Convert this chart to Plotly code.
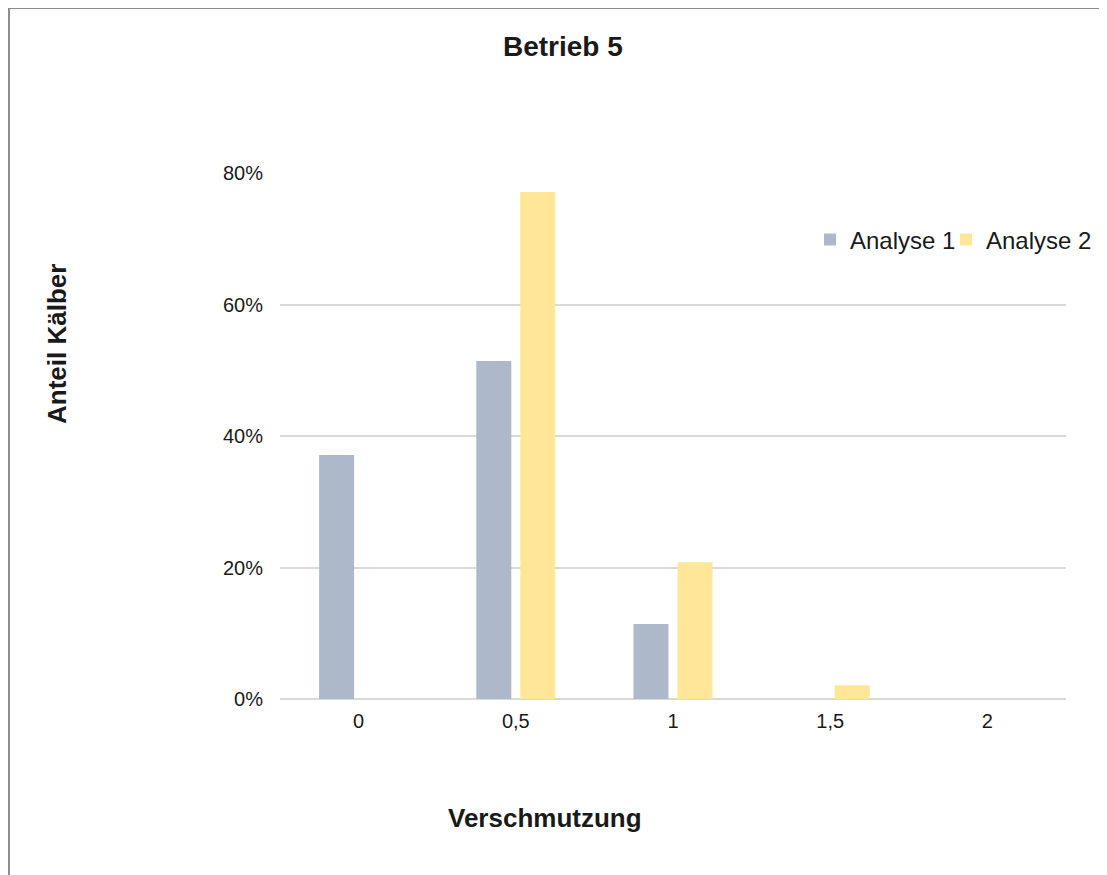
import plotly.graph_objects as go

categories = ["0", "0,5", "1", "1,5", "2"]
analyse1 = [0.371, 0.514, 0.114, 0.0, 0.0]
analyse2 = [0.0, 0.771, 0.208, 0.021, 0.0]
y_ticks = [0, 0.2, 0.4, 0.6, 0.8]

OFF = 8  # page body margin
W, H = 1107 - OFF, 875 - OFF
L, T = 280 - OFF, 173 - OFF
R = W - (1066 - OFF)
B = H - (699 - OFF)
pw, ph = W - L - R, H - T - B

def px_x(p):
    return (p - OFF - L) / pw

def px_y(p):
    return (H - B - (p - OFF)) / ph

FONT = "Liberation Sans, Arial, sans-serif"
TXT = "#1a1a1a"

fig = go.Figure()
fig.add_trace(go.Bar(name="Analyse 1", x=categories, y=analyse1, legend="legend",
                     marker=dict(color="#adb9ca", line=dict(width=0))))
fig.add_trace(go.Bar(name="Analyse 2", x=categories, y=analyse2, legend="legend2",
                     marker=dict(color="#ffe699", line=dict(width=0))))

leg_common = dict(orientation="h", xanchor="left", yanchor="middle",
                  font=dict(size=24, color=TXT, family=FONT), bgcolor="rgba(0,0,0,0)",
                  itemwidth=30)

fig.update_layout(
    width=W, height=H,
    margin=dict(l=L, r=R, t=T, b=B, autoexpand=False),
    paper_bgcolor="white", plot_bgcolor="white",
    barmode="group", bargap=0.44, bargroupgap=0.205,
    font=dict(family=FONT, color=TXT, size=20),
    showlegend=True,
    legend=dict(x=px_x(810), y=px_y(240), **leg_common),
    legend2=dict(x=px_x(946), y=px_y(240), **leg_common),
    xaxis=dict(type="category", showgrid=False, showline=False, zeroline=False,
               ticks="", tickfont=dict(size=20, color=TXT), ticklabelstandoff=8),
    yaxis=dict(range=[0, 0.8], tickvals=y_ticks, tickformat=".0%",
               showgrid=True, gridcolor="#d9d9d9", gridwidth=1.5,
               zeroline=True, zerolinecolor="#d9d9d9", zerolinewidth=1.5,
               showline=False, ticks="", tickfont=dict(size=20, color=TXT),
               ticklabelstandoff=16),
    shapes=[dict(type="rect", xref="paper", yref="paper",
                 x0=px_x(9), x1=px_x(1130), y0=px_y(900), y1=px_y(8),
                 line=dict(color="#8c8c8c", width=2), fillcolor="rgba(0,0,0,0)", layer="below")],
    annotations=[
        dict(text="<b>Betrieb 5</b>", xref="paper", yref="paper", x=px_x(563), y=px_y(46),
             xanchor="center", yanchor="middle", showarrow=False, font=dict(size=28, color=TXT)),
        dict(text="<b>Verschmutzung</b>", xref="paper", yref="paper", x=px_x(545), y=px_y(818),
             xanchor="center", yanchor="middle", showarrow=False, font=dict(size=26, color=TXT)),
        dict(text="<b>Anteil Kälber</b>", xref="paper", yref="paper", x=px_x(57), y=px_y(344),
             xanchor="center", yanchor="middle", showarrow=False, textangle=-90,
             font=dict(size=26, color=TXT)),
    ],
)

fig.write_html("out.html")
